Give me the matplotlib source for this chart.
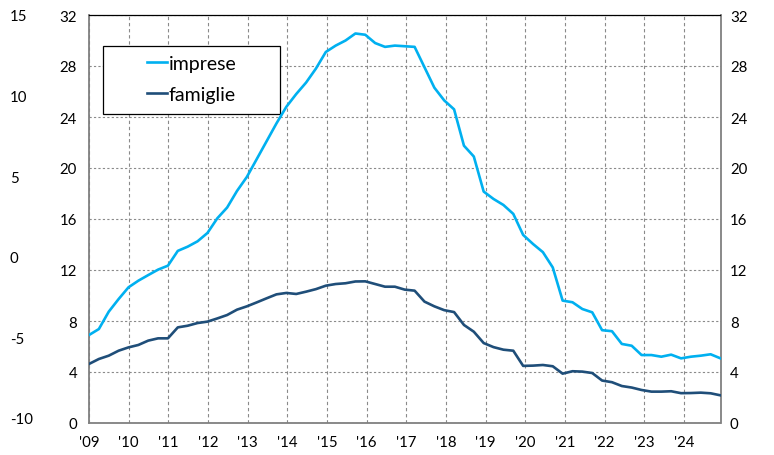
import matplotlib
matplotlib.use('Agg')
import matplotlib.pyplot as plt
import numpy as np
from matplotlib.patches import Rectangle

plt.rcParams['font.family'] = ['Lato', 'DejaVu Sans']
plt.rcParams['axes.unicode_minus'] = False

# ---- data ----
imprese = [6.9, 7.37, 8.73, 9.72, 10.64, 11.16, 11.6, 12.03, 12.34, 13.5,
           13.83, 14.25, 14.9, 16.05, 16.9, 18.2, 19.3, 20.7, 22.1, 23.5,
           24.8, 25.8, 26.7, 27.8, 29.1, 29.6, 30.0, 30.55, 30.45, 29.8,
           29.5, 29.6, 29.55, 29.5, 27.9, 26.3, 25.3, 24.6, 21.75, 20.9,
           18.15, 17.57, 17.1, 16.4, 14.75, 14.04, 13.4, 12.2, 9.6, 9.47,
           8.94, 8.68, 7.28, 7.2, 6.2, 6.06, 5.33, 5.33, 5.2, 5.36,
           5.07, 5.2, 5.28, 5.39, 5.07]
famiglie = [4.63, 5.02, 5.28, 5.67, 5.93, 6.12, 6.46, 6.64, 6.64, 7.5,
            7.63, 7.84, 7.95, 8.2, 8.47, 8.89, 9.15, 9.46, 9.78, 10.09,
            10.2, 10.12, 10.3, 10.5, 10.77, 10.9, 10.96, 11.1, 11.11, 10.9,
            10.69, 10.69, 10.46, 10.38, 9.52, 9.15, 8.85, 8.7, 7.69, 7.16,
            6.27, 5.95, 5.75, 5.67, 4.48, 4.5, 4.55, 4.45, 3.87, 4.06,
            4.03, 3.92, 3.33, 3.2, 2.9, 2.78, 2.59, 2.46, 2.46, 2.49,
            2.34, 2.35, 2.38, 2.33, 2.17]
years = list(range(2009, 2025))
year_labels = ["'09", "'10", "'11", "'12", "'13", "'14", "'15", "'16",
               "'17", "'18", "'19", "'20", "'21", "'22", "'23", "'24"]
y_ticks = [0, 4, 8, 12, 16, 20, 24, 28, 32]
outer_ticks = [-10, -5, 0, 5, 10, 15]
series_names = ['imprese', 'famiglie']

X_START, X_END = 2009, 2024.92

W, H = 774, 456
fig = plt.figure(figsize=(W / 100, H / 100), dpi=100)
rect = [89 / W, 32 / H, 631.5 / W, 408 / H]
ax = fig.add_axes(rect)

x = np.linspace(X_START, X_END, len(imprese))
ax.plot(x, imprese, color='#00B0F0', lw=1.9, label=series_names[0], zorder=3)
ax.plot(x, famiglie, color='#1F4E79', lw=1.9, label=series_names[1], zorder=3)

ax.set_xlim(X_START, X_END)
ax.set_ylim(0, 32)
ax.set_yticks(y_ticks)
ax.set_xticks(years)
ax.set_xticklabels(year_labels)
ax.tick_params(axis='both', length=0, labelsize=10.8, colors='black')
ax.tick_params(axis='y', pad=8.6)
ax.tick_params(axis='x', pad=8.5)
ax.set_axisbelow(True)
ax.yaxis.grid(True, linestyle=(0, (2, 2)), color='#8a8a8a', lw=0.8)
ax.xaxis.grid(True, linestyle=(0, (3, 2.5)), color='#8a8a8a', lw=0.8)
for s in ['left', 'bottom', 'right']:
    ax.spines[s].set_color('#808080')
    ax.spines[s].set_linewidth(1.3)
ax.spines['top'].set_color('black')
ax.spines['top'].set_linewidth(0.9)

# right axis
axr = ax.twinx()
axr.set_ylim(0, 32)
axr.set_yticks(y_ticks)
axr.tick_params(axis='y', length=0, labelsize=10.8, pad=6.8)
for s in axr.spines.values():
    s.set_visible(False)

# outer left scale
ax3 = fig.add_axes(rect, frameon=False)
ax3.set_ylim(-10.33, 14.98)
ax3.set_yticks(outer_ticks)
ax3.set_xticks([])
ax3.tick_params(axis='y', length=0, labelsize=10.8, pad=56.9)
for lbl in ax3.get_yticklabels():
    lbl.set_horizontalalignment('left')

# legend box
box = Rectangle((14 / 631.5, (424 - 115) / 408), 177 / 631.5, 68 / 408,
                transform=ax.transAxes, facecolor='white', edgecolor='black',
                lw=0.9, zorder=2.5)
ax.add_patch(box)
leg = ax.legend(loc='center', bbox_to_anchor=((191.5 - 89) / 631.5, (424 - 80) / 408),
                bbox_transform=ax.transAxes, frameon=False, fontsize=14,
                handlelength=1.06, handletextpad=0.05, labelspacing=0.72,
                borderpad=0)
leg.set_zorder(5)

fig.savefig('out.png', dpi=100)
